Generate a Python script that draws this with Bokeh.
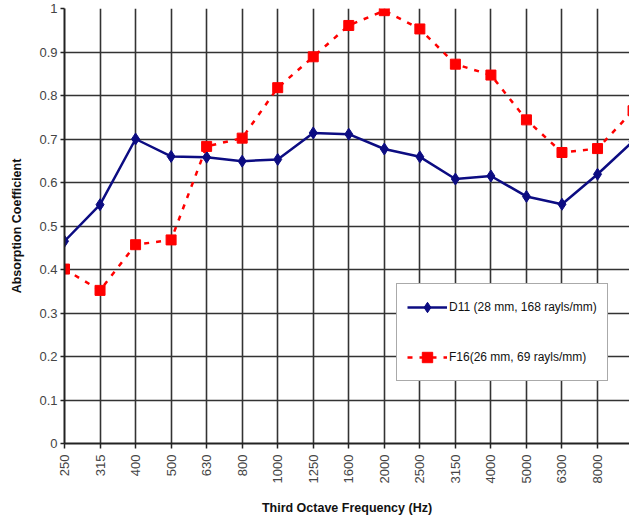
from bokeh.plotting import figure
from bokeh.models import FixedTicker, Range1d, Legend, LegendItem, NumeralTickFormatter
from bokeh.embed import file_html
from bokeh.resources import INLINE
import math

categories = ["250", "315", "400", "500", "630", "800", "1000", "1250", "1600",
              "2000", "2500", "3150", "4000", "5000", "6300", "8000", "10000"]
d11 = [0.465, 0.549, 0.700, 0.660, 0.658, 0.649, 0.653, 0.714, 0.711,
       0.677, 0.659, 0.608, 0.615, 0.568, 0.550, 0.619, 0.695]
f16 = [0.401, 0.352, 0.457, 0.468, 0.683, 0.702, 0.818, 0.889, 0.961,
       0.995, 0.953, 0.872, 0.847, 0.744, 0.669, 0.678, 0.765]
y_ticks = [0, 0.1, 0.2, 0.3, 0.4, 0.5, 0.6, 0.7, 0.8, 0.9, 1.0]
d11_label = "D11 (28 mm, 168 rayls/mm)"
f16_label = "F16(26 mm, 69 rayls/mm)"
x_title = "Third Octave Frequency (Hz)"
y_title = "Absorption Coefficient"

BLUE = "#0c0c82"
RED = "#ff0000"
FONT = "Liberation Sans"

xs = list(range(len(categories)))

p = figure(width=629, height=522, output_backend="svg", toolbar_location=None,
           x_range=Range1d(0, 15.9), y_range=Range1d(0, 1),
           min_border_left=64, min_border_right=0, min_border_top=8, min_border_bottom=79)
p.outline_line_color = None
p.background_fill_color = "white"
p.border_fill_color = "white"

xt = FixedTicker(ticks=xs)
yt = FixedTicker(ticks=y_ticks)
p.xaxis.ticker = xt
p.yaxis.ticker = yt
p.xgrid.ticker = xt
p.ygrid.ticker = yt
p.xaxis.major_label_overrides = {i: c for i, c in enumerate(categories)}
p.xaxis.major_label_orientation = math.pi / 2
p.yaxis.formatter = NumeralTickFormatter(format="0.[0]")

for g in (p.xgrid, p.ygrid):
    g.grid_line_color = "#333333"
    g.grid_line_width = 1.6

for ax in (p.xaxis, p.yaxis):
    ax.axis_line_color = "#222222"
    ax.axis_line_width = 2
    ax.major_tick_line_color = "#222222"
    ax.major_tick_line_width = 1.5
    ax.major_tick_in = 0
    ax.minor_tick_line_color = None
    ax.major_label_text_font = FONT
    ax.major_label_text_font_size = "13px"
    ax.major_label_text_color = "#444444"
    ax.axis_label_text_font = FONT
    ax.axis_label_text_font_size = "12.5px"
    ax.axis_label_text_font_style = "bold"
    ax.axis_label_text_color = "#111111"

p.xaxis.major_tick_out = 5
p.xaxis.major_label_standoff = 6
p.xaxis.axis_label = x_title
p.xaxis.axis_label_standoff = 15
p.yaxis.major_tick_out = 4
p.yaxis.major_label_standoff = 3
p.yaxis.axis_label = y_title
p.yaxis.axis_label_standoff = 12

l1 = p.line(xs, d11, line_color=BLUE, line_width=2.5)
m1 = p.scatter(xs, d11, marker="diamond", size=12, fill_color=BLUE, line_color=BLUE)
l2 = p.line(xs, f16, line_color=RED, line_width=2.5, line_dash="5 7")
m2 = p.scatter(xs, f16, marker="square", size=10, fill_color=RED, line_color=RED)

legend = Legend(items=[LegendItem(label=d11_label, renderers=[l1, m1]),
                       LegendItem(label=f16_label, renderers=[l2, m2])],
                location=(332, 62), orientation="vertical",
                padding=10, spacing=24, margin=0,
                glyph_width=40, glyph_height=26, label_height=26, label_standoff=2,
                label_text_font=FONT, label_text_font_size="12px", label_text_color="#111111",
                border_line_color="#555555", border_line_width=1,
                background_fill_color="white", background_fill_alpha=1.0)
p.add_layout(legend)

open("out.html", "w").write(file_html(p, INLINE))
